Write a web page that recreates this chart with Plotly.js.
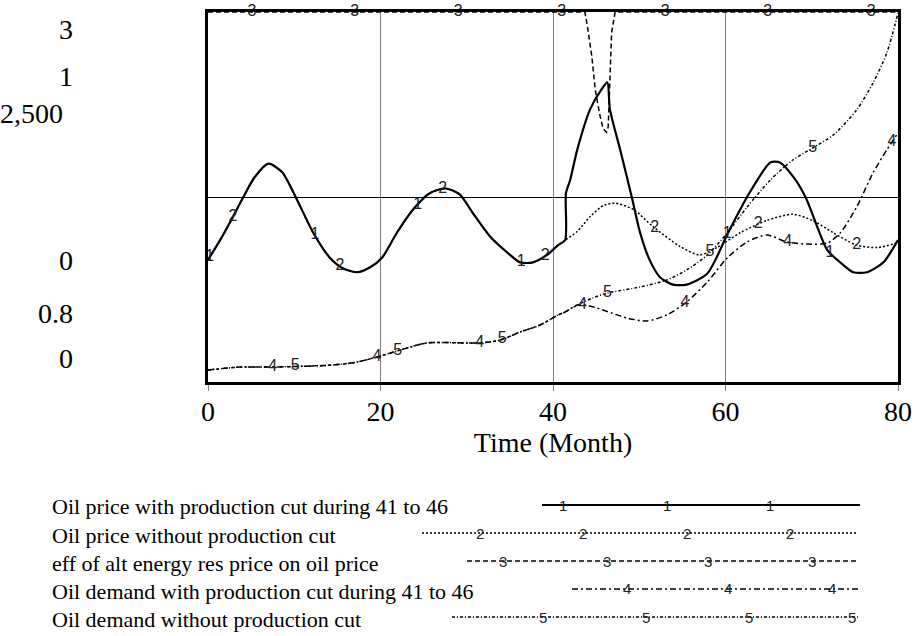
<!DOCTYPE html>
<html>
<head>
<meta charset="utf-8">
<script src="https://cdn.plot.ly/plotly-3.0.1.min.js"></script>
<style>html,body{margin:0;padding:0;background:#fff;}#chart{width:921px;height:636px;}</style>
</head>
<body>
<div id="chart"></div>
<script>
// ---- data ----
// shared path of both oil price runs before the cut (price scale 0..3)
const tPriceShared = [0,1.4,2.9,4.1,5.4,7,8.6,10.3,12.2,14.1,15.7,17.3,18.8,20.2,21.9,23.8,25.7,27.5,29.2,30.7,32.7,34.7,36.2,37.7,39.3,40.6,41.4];
const priceShared  = [0.99,1.15,1.34,1.50,1.66,1.77,1.70,1.48,1.21,1.01,0.92,0.89,0.93,1.01,1.21,1.40,1.53,1.57,1.52,1.37,1.18,1.05,0.97,0.97,1.03,1.11,1.15];
// Oil price with production cut during 41 to 46 (after 41.4)
const tPriceCut = [41.5,42.0,42.8,44.3,45.7,46.3,46.6,47.8,49.2,50.1,51.2,52.4,53.9,55.5,57.9,60.3,62.5,65.2,66.3,68.1,69.4,71.8,73.3,74.8,76.4,78.3,80];
const priceCut  = [1.53,1.64,1.88,2.21,2.38,2.43,2.21,1.88,1.48,1.21,0.99,0.85,0.79,0.79,0.88,1.21,1.50,1.78,1.78,1.64,1.48,1.07,0.97,0.89,0.89,0.97,1.15];
// Oil price without production cut (after 41.4)
const tPriceNoCut = [42.8,44.3,45.8,47.2,49.3,51.6,54.7,57.0,59.0,61.7,64.8,67.8,70.1,72.5,75.2,77.6,80];
const priceNoCut  = [1.22,1.34,1.43,1.45,1.40,1.26,1.10,1.03,1.09,1.21,1.31,1.36,1.31,1.21,1.11,1.09,1.13];
// eff of alt energy res price on oil price (scale 0.8..1)
const tEff = [0,43.7,44.0,44.5,44.9,45.4,45.8,46.2,46.4,46.5,46.6,46.8,47.2,80];
const eff  = [1,1,0.992,0.976,0.958,0.945,0.937,0.935,0.938,0.952,0.970,0.989,1,1];
// shared path of both oil demand runs (scale 0..2,500)
const tDemandShared = [0,3.7,7.5,14.5,17.3,19.6,22.3,25.4,31.5,33.9,36.2,38.5,40.6,41.4,42.8];
const demandShared  = [81,101,101,115,135,169,216,264,264,284,338,385,453,473,520];
// Oil demand with production cut during 41 to 46
const tDemandCut = [43.5,45.1,46.8,48.6,50.9,53.2,55.5,57.9,60.2,62.5,64.8,67.1,69.4,71.8,73.3,75.2,77.1,78.7,80];
const demandCut  = [522,500,466,432,412,453,541,676,838,946,993,946,932,939,1007,1182,1412,1568,1682];
// Oil demand without production cut
const tDemandNoCut = [44.6,46.3,50.1,53.2,55.5,57.9,60.2,62.5,65.2,67.8,70.1,72.5,75.2,77.1,78.7,80];
const demandNoCut  = [568,601,642,689,757,858,1007,1182,1365,1500,1581,1669,1838,2020,2223,2493];

// series names and number labels
const seriesNames = [
  "Oil price with production cut during 41 to 46",
  "Oil price without production cut",
  "eff of alt energy res price on oil price",
  "Oil demand with production cut during 41 to 46",
  "Oil demand without production cut"
];
const seriesNumbers = ["1","2","3","4","5"];
// times at which the series numbers sit on the lines
const labelTimes1 = [0.2,12.4,24.3,36.3,60.2,72.1];
const labelTimes2 = [2.9,15.3,27.2,39.1,51.8,63.8,75.2];
const labelTimes3 = [5.1,17.0,29.0,41.0,53.0,64.9,76.9];
const labelTimes4 = [7.5,19.6,31.5,43.4,55.3,67.2,79.3];
const labelTimes5 = [10.1,22.0,34.1,46.3,58.2,70.1];
// x axis ticks and scale labels
const xTickVals = [0,20,40,60,80];
const scaleTopLabels = ["3","1","2,500"];
const scaleBottomLabels = ["0","0.8","0"];

// ---- build ----
const s1x = tPriceShared.concat(tPriceCut),  s1y = priceShared.concat(priceCut);
const s2x = tPriceShared.concat(tPriceNoCut), s2y = priceShared.concat(priceNoCut);
const s3x = tEff, s3y = eff;
const s4x = tDemandShared.concat(tDemandCut), s4y = demandShared.concat(demandCut);
const s5x = tDemandShared.concat(tDemandNoCut), s5y = demandShared.concat(demandNoCut);

function interp(xs, ys, t){
  if (t <= xs[0]) return ys[0];
  for (let i=1;i<xs.length;i++){
    if (t <= xs[i]){ const f=(t-xs[i-1])/(xs[i]-xs[i-1]); return ys[i-1]+f*(ys[i]-ys[i-1]); }
  }
  return ys[ys.length-1];
}

// plot area in pixels (for paper coordinates of the legend / scale labels)
const PL=208, PR=898, PT=12, PB=382;
const xp = px => (px-PL)/(PR-PL);
const yp = py => (PB-py)/(PB-PT);

const styles = [
  {dash:"solid", width:2.2, shape:"spline", axis:"y"},
  {dash:"2px,2px", width:1.5, shape:"spline", axis:"y"},
  {dash:"5px,3px", width:1.5, shape:"linear", axis:"y2"},
  {dash:"6px,3px,2px,3px", width:1.5, shape:"spline", axis:"y3"},
  {dash:"3px,2px,1px,2px", width:1.5, shape:"spline", axis:"y3"}
];
const series = [[s1x,s1y],[s2x,s2y],[s3x,s3y],[s4x,s4y],[s5x,s5y]];
const labelTimes = [labelTimes1,labelTimes2,labelTimes3,labelTimes4,labelTimes5];

const traces = [];
series.forEach((s,i)=>{
  traces.push({x:s[0], y:s[1], type:"scatter", mode:"lines", name:seriesNames[i], yaxis:styles[i].axis,
    line:{color:"#000", width:styles[i].width, dash:styles[i].dash, shape:styles[i].shape, smoothing:0.7}});
});
const sans = "'Liberation Sans', Arial, sans-serif";
series.forEach((s,i)=>{
  traces.push({x:labelTimes[i], y:labelTimes[i].map(t=>interp(s[0],s[1],t)), type:"scatter", mode:"text",
    text:labelTimes[i].map(()=>seriesNumbers[i]), yaxis:styles[i].axis, cliponaxis:false,
    textfont:{family:sans, size:16, color:"#222"}, textposition:"middle center"});
});

const serif = "'Liberation Serif', 'Times New Roman', serif";
const annotations = [];
// scale labels (stacked at top and bottom, Vensim style)
const topY = [30,76,113], botY = [260,313,358];
const topXR = [75,75,65], botXR = [75,75,75];
scaleTopLabels.forEach((s,i)=>annotations.push({xref:"paper",yref:"paper",x:xp(topXR[i]),y:yp(topY[i]),text:s,showarrow:false,xanchor:"right",yanchor:"middle",font:{family:serif,size:28,color:"#000"}}));
scaleBottomLabels.forEach((s,i)=>annotations.push({xref:"paper",yref:"paper",x:xp(botXR[i]),y:yp(botY[i]),text:s,showarrow:false,xanchor:"right",yanchor:"middle",font:{family:serif,size:28,color:"#000"}}));

// legend
const legRowY = [507,535,563,591,619];
const legLineX = [[542,860],[422,857],[467,857],[572,858],[452,858]];
const legNumX = [[563,667,770],[480,583,687,790],[503,607,708,812],[627,728,832],[543,646,749,852]];
const shapes = [];
seriesNames.forEach((n,i)=>{
  annotations.push({xref:"paper",yref:"paper",x:xp(50),y:yp(legRowY[i]),text:n,showarrow:false,xanchor:"left",yanchor:"middle",font:{family:serif,size:22,color:"#000"}});
  shapes.push({type:"line",xref:"paper",yref:"paper",x0:xp(legLineX[i][0]),x1:xp(legLineX[i][1]),y0:yp(legRowY[i]-2),y1:yp(legRowY[i]-2),
    line:{color:"#000",width:styles[i].width,dash:styles[i].dash}});
  legNumX[i].forEach(px=>annotations.push({xref:"paper",yref:"paper",x:xp(px),y:yp(legRowY[i]-2),text:seriesNumbers[i],showarrow:false,xanchor:"center",yanchor:"middle",font:{family:sans,size:15,color:"#222"}}));
});

const layout = {
  width:921, height:636,
  margin:{l:PL, r:921-PR, t:PT, b:636-PB, pad:0},
  paper_bgcolor:"#fff", plot_bgcolor:"#fff",
  showlegend:false, hovermode:false,
  font:{family:serif},
  xaxis:{range:[0,80], tickvals:xTickVals, ticks:"outside", ticklen:6, tickcolor:"#808080", tickwidth:1,
    showgrid:true, gridcolor:"#808080", gridwidth:1, zeroline:false,
    showline:true, mirror:true, linecolor:"#000", linewidth:3,
    tickfont:{family:serif,size:28,color:"#000"}, ticklabelstandoff:-4,
    title:{text:"Time (Month)", font:{family:serif,size:28,color:"#000"}, standoff:0}},
  yaxis:{range:[0,3], tickvals:[1.5], showticklabels:false, ticks:"", showgrid:true, gridcolor:"#000", gridwidth:1,
    zeroline:false, showline:true, mirror:true, linecolor:"#000", linewidth:3},
  yaxis2:{range:[0.8,1], overlaying:"y", visible:false},
  yaxis3:{range:[0,2500], overlaying:"y", visible:false},
  annotations:annotations, shapes:shapes
};
Plotly.newPlot("chart", traces, layout, {displayModeBar:false, staticPlot:true});
</script>
</body>
</html>
